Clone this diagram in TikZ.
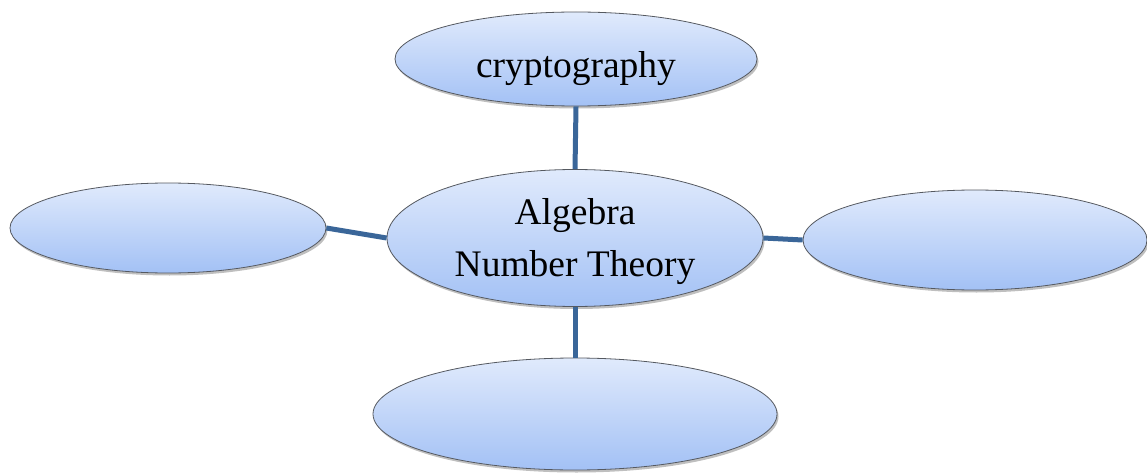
\documentclass[tikz,border=0pt]{standalone}
\usepackage{fontspec}
\setmainfont{Liberation Serif}
\usetikzlibrary{shapes.geometric,shadows}
\definecolor{topfill}{HTML}{E0EAFC}
\definecolor{botfill}{HTML}{A3C1F5}
\definecolor{rim}{HTML}{555960}
\definecolor{link}{HTML}{3A6699}
\begin{document}
\begin{tikzpicture}[x=1pt,y=-1pt,
  bubble/.style={ellipse, draw=rim, line width=0.8pt, top color=topfill, bottom color=botfill,
    inner sep=0pt,
    drop shadow={shadow xshift=1.5pt, shadow yshift=-2.5pt, fill=black, opacity=0.25}},
  bubbletext/.style={align=center, inner sep=0pt, font=\fontsize{37.5}{52}\selectfont},
  link/.style={draw=link, line width=5pt}]
\useasboundingbox (0,0) rectangle (1147,473);
\node[bubble, minimum width=362pt, minimum height=94pt,
  label={[bubbletext, yshift=-10pt]center:cryptography}] (T) at (576,59) {};
\node[bubble, minimum width=376pt, minimum height=137pt,
  label={[bubbletext, yshift=-4pt]center:Algebra\\Number Theory}] (C) at (575,238) {};
\node[bubble, minimum width=316pt, minimum height=90pt] (L) at (168,228) {};
\node[bubble, minimum width=344pt, minimum height=100pt] (R) at (975,240) {};
\node[bubble, minimum width=404pt, minimum height=112pt] (B) at (575,414) {};
\draw[link] (T.south) -- (C.north);
\draw[link] (L.east) -- (C.west);
\draw[link] (C.east) -- (R.west);
\draw[link] (C.south) -- (B.north);
\end{tikzpicture}
\end{document}
